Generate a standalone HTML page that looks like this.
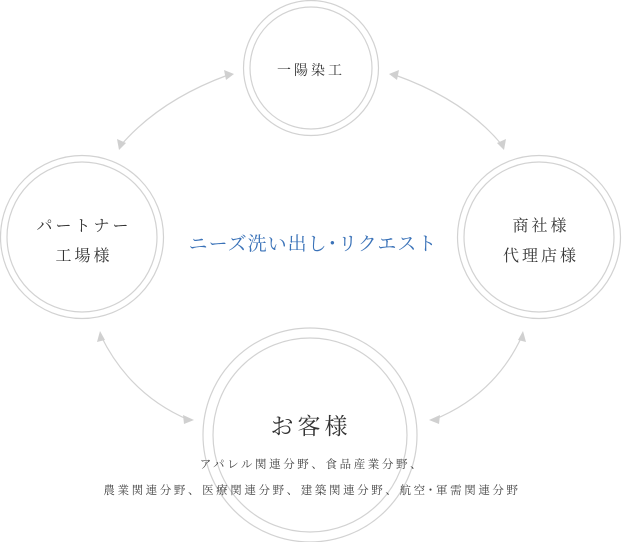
<!DOCTYPE html>
<html><head><meta charset="utf-8"><style>
body{margin:0;background:#fff;width:622px;height:542px;overflow:hidden;position:relative;font-family:"Liberation Serif","Noto Serif CJK SC",serif;color:#333}
svg{position:absolute;left:0;top:0}
.t{position:absolute;white-space:nowrap;text-align:center;transform:translateX(-50%)}
</style></head><body>
<svg width="622" height="542" viewBox="0 0 622 542">
<g fill="none" stroke="#d2d2d2" stroke-width="1.2">
<circle cx="311" cy="68" r="67.5"/><circle cx="311" cy="68" r="61"/>
<circle cx="82" cy="237" r="81.5"/><circle cx="82" cy="237" r="75"/>
<circle cx="539" cy="237" r="81.5"/><circle cx="539" cy="237" r="75"/>
<circle cx="310" cy="435" r="107"/><circle cx="310" cy="435" r="97"/>
<path d="M228 75 Q160 100 121 145"/>
<path d="M395 75 Q465 100 502 145"/>
<path d="M101 336 Q130 395 189 420"/>
<path d="M522 336 Q495 395 433 420"/>
</g>
<g fill="#d0d0d0">
<polygon points="234,74 224,70 226,80"/>
<polygon points="389,74 399,70 397,80"/>
<polygon points="119,150 117,139 126,143"/>
<polygon points="504,150 506,139 497,143"/>
<polygon points="100,331 97,342 105,340"/>
<polygon points="523,331 526,342 518,340"/>
<polygon points="194,420 183,415 184,424"/>
<polygon points="429,420 440,415 439,424"/>
</g>
</svg>
<div class="t" style="left:311px;top:60px;font-size:14px;letter-spacing:3px">一陽染工</div>
<div class="t" style="left:84px;top:212px;font-size:16px;letter-spacing:3px;line-height:30px">パートナー<br>工場様</div>
<div class="t" style="left:541px;top:212px;font-size:16px;letter-spacing:3px;line-height:30px">商社様<br>代理店様</div>
<div class="t" style="left:313px;top:229px;font-size:19px;color:#3a72b8;letter-spacing:1px">ニーズ洗い出し･リクエスト</div>
<div class="t" style="left:311px;top:408px;font-size:23px;letter-spacing:4px">お客様</div>
<div class="t" style="left:312px;top:452px;font-size:11.5px;letter-spacing:2.6px;line-height:26px;color:#444">アパレル関連分野、食品産業分野、<br>農業関連分野、医療関連分野、建築関連分野、航空･軍需関連分野</div>
</body></html>
